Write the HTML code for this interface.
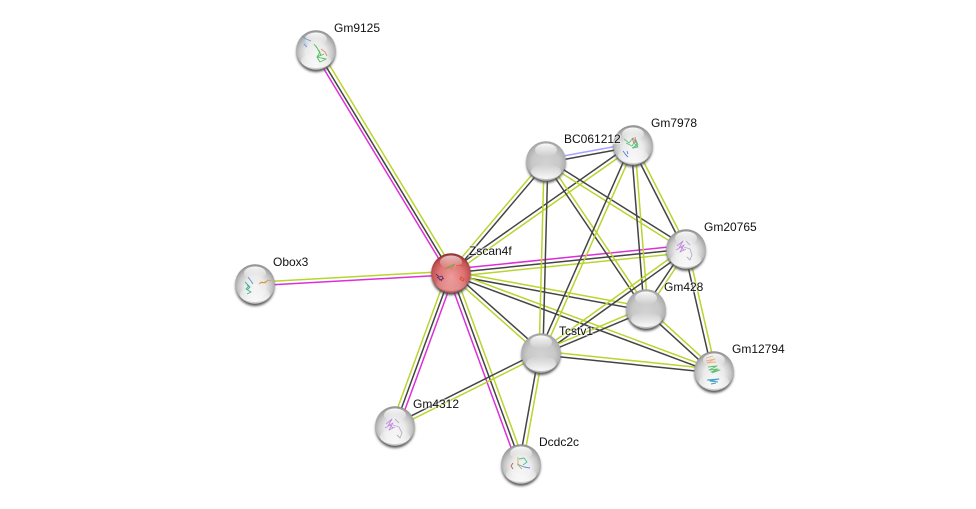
<!DOCTYPE html>
<html><head><meta charset="utf-8"><style>
html,body{margin:0;padding:0;background:#fff;width:976px;height:509px;overflow:hidden}
svg{display:block}
line{stroke-width:1.5;fill:none}
line.y{stroke:#b8d52e}
line.m{stroke:#dd2fd8}
line.b{stroke:#a5a5ff}
line.k{stroke:#444}
text{font:12px "Liberation Sans",sans-serif;fill:#111;paint-order:stroke;stroke:rgba(255,255,255,.45);stroke-width:2.5px;stroke-linejoin:round}
.s{fill:none;stroke-width:.9;stroke-linejoin:round;filter:url(#sf)}
</style></head><body>
<svg width="976" height="509" viewBox="0 0 976 509" xmlns="http://www.w3.org/2000/svg">
<defs>
<radialGradient id="gw" cx=".5" cy=".58" r=".58"><stop offset="0" stop-color="#f6f6f6"/><stop offset=".45" stop-color="#eaeaea"/><stop offset=".72" stop-color="#c8c8c8"/><stop offset=".92" stop-color="#a0a0a0"/><stop offset="1" stop-color="#858585"/></radialGradient>
<radialGradient id="gb" cx=".5" cy=".55" r=".58"><stop offset="0" stop-color="#d2d2d2"/><stop offset=".6" stop-color="#c8c8c8"/><stop offset=".85" stop-color="#b0b0b0"/><stop offset=".97" stop-color="#969696"/><stop offset="1" stop-color="#858585"/></radialGradient>
<radialGradient id="gr" cx=".5" cy=".58" r=".58"><stop offset="0" stop-color="#ee9c9c"/><stop offset=".55" stop-color="#de7474"/><stop offset=".85" stop-color="#c05050"/><stop offset=".97" stop-color="#903030"/><stop offset="1" stop-color="#702020"/></radialGradient>
<linearGradient id="hl" x1="0" y1="0" x2="0" y2="1"><stop offset="0" stop-color="#fff" stop-opacity=".95"/><stop offset="1" stop-color="#fff" stop-opacity="0"/></linearGradient>
<linearGradient id="lo" x1="0" y1="0" x2="0" y2="1"><stop offset="0" stop-color="#fff" stop-opacity="0"/><stop offset="1" stop-color="#fff" stop-opacity=".9"/></linearGradient>
<filter id="bl" x="-30%" y="-30%" width="160%" height="160%"><feGaussianBlur stdDeviation="1.2"/></filter>
<filter id="sf" x="-20%" y="-20%" width="140%" height="140%"><feGaussianBlur stdDeviation=".35"/></filter>
<g id="top"><ellipse cx="0" cy="-11" rx="11" ry="6.5" fill="url(#hl)"/><ellipse cx="0" cy="10.5" rx="15" ry="7.5" fill="url(#lo)"/></g>
<g id="w"><circle cx="0" cy="2.5" r="19.5" fill="#555" filter="url(#bl)"/><circle r="19.8" fill="url(#gw)"/><use href="#top"/></g>
<g id="n"><circle cx="0" cy="2.5" r="19.5" fill="#555" filter="url(#bl)"/><circle r="19.8" fill="url(#gb)"/><use href="#top"/></g>
</defs>

<!-- Gm9125 - Zscan4f -->
<line class="m" x1="313.4" y1="51.6" x2="448.4" y2="274.6"/><line class="k" x1="316" y1="50" x2="451" y2="273"/><line class="y" x1="319.2" y1="48.1" x2="454.2" y2="271.1"/>
<!-- Obox3 -->
<line class="y" x1="255" y1="282.2" x2="451" y2="271.2"/><line class="m" x1="255" y1="285.8" x2="451" y2="274.8"/>
<!-- Z-BC -->
<line class="y" x1="449.6" y1="271.8" x2="544.6" y2="159.8"/><line class="k" x1="452.4" y1="274.2" x2="547.4" y2="162.2"/>
<!-- Z-7978 -->
<line class="k" x1="449.9" y1="271.5" x2="631.9" y2="143.5"/><line class="y" x1="452.1" y1="274.5" x2="634.1" y2="146.5"/>
<!-- Z-20765 -->
<line class="m" x1="450.6" y1="269.3" x2="685.6" y2="245.3"/><line class="k" x1="451" y1="273" x2="686" y2="249"/><line class="y" x1="451.4" y1="276.7" x2="686.4" y2="252.7"/>
<!-- Z-428 -->
<line class="y" x1="451.3" y1="271.2" x2="646.3" y2="307.2"/><line class="k" x1="450.7" y1="274.8" x2="645.7" y2="310.8"/>
<!-- Z-Tcstv1 -->
<line class="y" x1="449.8" y1="274.4" x2="539.8" y2="354.4"/><line class="k" x1="452.2" y1="271.6" x2="542.2" y2="351.6"/>
<!-- Z-12794 -->
<line class="y" x1="451.6" y1="271.3" x2="714.6" y2="369.3"/><line class="k" x1="450.4" y1="274.7" x2="713.4" y2="372.7"/>
<!-- Z-4312 -->
<line class="y" x1="447.5" y1="271.7" x2="391.5" y2="424.7"/><line class="k" x1="451" y1="273" x2="395" y2="426"/><line class="m" x1="454.5" y1="274.3" x2="398.5" y2="427.3"/>
<!-- Z-Dcdc -->
<line class="m" x1="447.5" y1="274.3" x2="517.5" y2="465.3"/><line class="k" x1="451" y1="273" x2="521" y2="464"/><line class="y" x1="454.5" y1="271.7" x2="524.5" y2="462.7"/>
<!-- BC-7978 -->
<line class="b" x1="545.7" y1="159.2" x2="632.7" y2="143.2"/><line class="k" x1="546.3" y1="162.8" x2="633.3" y2="146.8"/>
<!-- BC-20765 -->
<line class="k" x1="547.1" y1="159.4" x2="687.1" y2="247.4"/><line class="y" x1="544.9" y1="162.6" x2="684.9" y2="250.6"/>
<!-- BC-428 -->
<line class="y" x1="547.5" y1="160" x2="647.5" y2="308"/><line class="k" x1="544.5" y1="162" x2="644.5" y2="310"/>
<!-- BC-Tcstv1 -->
<line class="y" x1="544.1" y1="161" x2="539.1" y2="353"/><line class="k" x1="547.9" y1="161" x2="542.9" y2="353"/>
<!-- 7978-20765 -->
<line class="k" x1="631.4" y1="145.9" x2="684.4" y2="249.9"/><line class="y" x1="634.6" y1="144.1" x2="687.6" y2="248.1"/>
<!-- 7978-428 -->
<line class="k" x1="631.1" y1="144.9" x2="644.1" y2="308.9"/><line class="y" x1="634.9" y1="145.1" x2="647.9" y2="309.1"/>
<!-- 7978-Tcstv1 -->
<line class="k" x1="631.2" y1="144.2" x2="539.2" y2="352.2"/><line class="y" x1="634.8" y1="145.8" x2="542.8" y2="353.8"/>
<!-- 20765-428 -->
<line class="k" x1="684.5" y1="248" x2="644.5" y2="308"/><line class="y" x1="687.5" y1="250" x2="647.5" y2="310"/>
<!-- 20765-Tcstv1 -->
<line class="y" x1="684.9" y1="247.5" x2="539.9" y2="351.5"/><line class="k" x1="687.1" y1="250.5" x2="542.1" y2="354.5"/>
<!-- 20765-12794 -->
<line class="k" x1="684.1" y1="249.4" x2="712.1" y2="371.4"/><line class="y" x1="687.9" y1="248.6" x2="715.9" y2="370.6"/>
<!-- 428-Tcstv1 -->
<line class="y" x1="645.3" y1="307.3" x2="540.3" y2="351.3"/><line class="k" x1="646.7" y1="310.7" x2="541.7" y2="354.7"/>
<!-- 428-12794 -->
<line class="k" x1="644.6" y1="310.3" x2="712.6" y2="372.3"/><line class="y" x1="647.4" y1="307.7" x2="715.4" y2="369.7"/>
<!-- Tcstv1-12794 -->
<line class="y" x1="541.2" y1="351.1" x2="714.2" y2="369.1"/><line class="k" x1="540.8" y1="354.9" x2="713.8" y2="372.9"/>
<!-- Tcstv1-4312 -->
<line class="k" x1="540.1" y1="351.4" x2="394.1" y2="424.4"/><line class="y" x1="541.9" y1="354.6" x2="395.9" y2="427.6"/>
<!-- Tcstv1-Dcdc -->
<line class="k" x1="539.1" y1="352.6" x2="519.1" y2="463.6"/><line class="y" x1="542.9" y1="353.4" x2="522.9" y2="464.4"/>

<!-- Nodes -->
<use href="#w" x="316" y="50"/>
<path class="s" stroke="#5aa0e0" d="M302 36l4 3 5 2M304 44l3 3"/><path class="s" stroke="#55c060" d="M314 44l3 4 3 4-3 5 4 1 5 1-6 3-3-5 7-3M316 46l5 9-4 2"/><path class="s" stroke="#e09060" d="M321 49l4 3 2 4"/>

<use href="#w" x="255" y="284"/>
<path class="s" stroke="#40b090" d="M245 282l4 4-3 3 5 3-4 2M247 285l3 2-3 3"/><path class="s" stroke="#5a90d0" d="M248 277l3 4 2 3"/><path class="s" stroke="#d89a50" d="M259 284l3-2 3 1 3-3 3 1M260 282l3 1 4-2"/>

<circle cx="451" cy="275.5" r="19.5" fill="#444" filter="url(#bl)"/><circle cx="451" cy="273" r="19.8" fill="url(#gr)"/><ellipse cx="451" cy="262" rx="11" ry="6.5" fill="url(#hl)" opacity=".7"/><ellipse cx="451" cy="283.5" rx="15" ry="7.5" fill="url(#lo)" opacity=".3"/>
<path class="s" stroke="#80a040" d="M445 269l5-3 5-2M447 267l4 1 3-3"/><path class="s" stroke="#d85030" d="M456 266l4-1 3 1M461 277l3 2-1 2-3-2z"/><path class="s" stroke="#553377" d="M436 274l3 3 3-1 1 3-4 1M441 280l3-2M437 277l5 4"/>

<use href="#n" x="546" y="161"/>
<use href="#w" x="633" y="145"/>
<path class="s" stroke="#60c080" d="M624 139l5 4 4-5 4 6-4 4 5-1-5-5M626 143l6 3 4-6 2 5-6 3"/><path class="s" stroke="#e07070" d="M632 138l2 5M635 137l1 6"/><path class="s" stroke="#5577dd" d="M623 151l3 4 2 2M627 151l1 3"/>

<use href="#w" x="686" y="249"/>
<path class="s" stroke="#c28be0" d="M677 246l6-5-4 7 5-3-4 7 6-3M676 250l5-3 3 3"/><path class="s" stroke="#bbaac8" d="M684 247l6 2 2 6-2 5-3-3M686 241l4 4"/>

<use href="#n" x="646" y="309"/>
<use href="#w" x="714" y="371"/>
<path class="s" stroke="#eeb080" d="M706 361l9-2-8 4 9-1M706 358l7-2"/><path class="s" stroke="#60c070" d="M708 367l9-1-8 4 9-1-7 3 9-2-8 3"/><path class="s" stroke="#40a0c8" d="M707 380l12-1-9 2 8 1M711 384l5-1"/>

<use href="#n" x="541" y="353"/>
<use href="#w" x="395" y="426"/>
<path class="s" stroke="#c28be0" d="M386 424l6-5-4 7 5-3-4 7 6-3M385 428l5-3 3 3"/><path class="s" stroke="#bbaac8" d="M393 425l6 2 3 6-2 5-3-3M395 419l4 4"/>

<use href="#w" x="521" y="464"/>
<path class="s" stroke="#50c090" d="M519 459l5-1 3 4-4 3"/><path class="s" stroke="#6090e0" d="M517 464l7 3 6 1"/><path class="s" stroke="#d8b050" d="M518 457l0 8 4 4"/><path class="s" stroke="#c06050" d="M513 463l-2 3 2 3"/>

<text x="334" y="32">Gm9125</text>
<text x="651" y="127">Gm7978</text>
<text x="564" y="143">BC061212</text>
<text x="704" y="231">Gm20765</text>
<text x="469" y="255">Zscan4f</text>
<text x="273" y="266">Obox3</text>
<text x="664" y="291">Gm428</text>
<text x="559" y="335">Tcstv1</text>
<text x="732" y="353">Gm12794</text>
<text x="413" y="408">Gm4312</text>
<text x="539" y="446">Dcdc2c</text>
</svg>
</body></html>
